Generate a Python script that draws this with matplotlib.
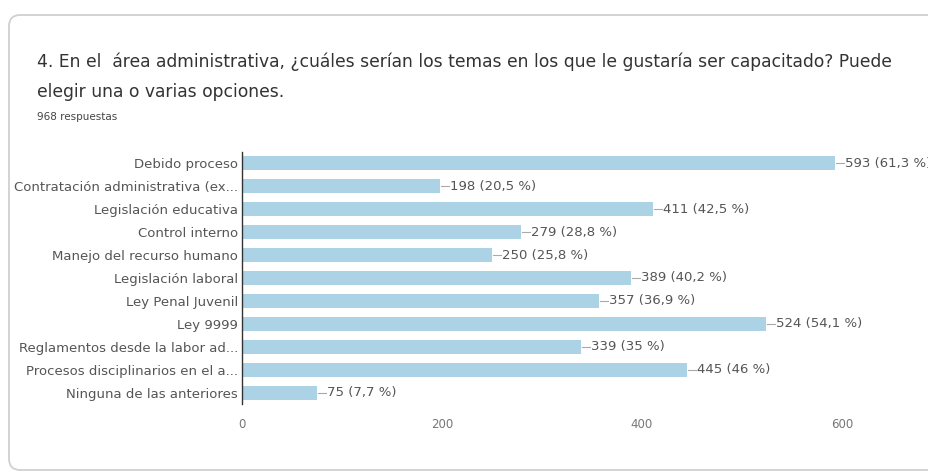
import matplotlib
matplotlib.use('Agg')
import matplotlib.pyplot as plt
from matplotlib.patches import FancyBboxPatch

# Datos de la encuesta (respuestas por tema)
CATEGORIAS = [
    "Debido proceso",
    "Contratación administrativa (ex...",
    "Legislación educativa",
    "Control interno",
    "Manejo del recurso humano",
    "Legislación laboral",
    "Ley Penal Juvenil",
    "Ley 9999",
    "Reglamentos desde la labor ad...",
    "Procesos disciplinarios en el a...",
    "Ninguna de las anteriores",
]
RESPUESTAS = [593, 198, 411, 279, 250, 389, 357, 524, 339, 445, 75]
PORCENTAJES = ["61,3 %", "20,5 %", "42,5 %", "28,8 %", "25,8 %", "40,2 %",
               "36,9 %", "54,1 %", "35 %", "46 %", "7,7 %"]
TICKS = [0, 200, 400, 600]

TITULO_1 = "4. En el  área administrativa, ¿cuáles serían los temas en los que le gustaría ser capacitado? Puede"
TITULO_2 = "elegir una o varias opciones."
SUBTITULO = "968 respuestas"

COLOR_BARRA = "#acd2e6"
COLOR_TEXTO = "#555555"

W, H = 929, 475
fig = plt.figure(figsize=(W / 100, H / 100), dpi=100)
fig.patch.set_facecolor('white')

# Tarjeta con bordes redondeados
card = FancyBboxPatch((9 / W, 1 - 470 / H), (960 - 9) / W, (470 - 15) / H,
                      boxstyle="round,pad=0,rounding_size=0.012",
                      transform=fig.transFigure, facecolor='white',
                      edgecolor='#d0d0d0', lw=1.3, zorder=-10,
                      mutation_aspect=W / H)
fig.patches.append(card)

# Títulos
fig.text(37 / W, 1 - 62 / H, TITULO_1, fontsize=12.3, family='DejaVu Sans',
         color='#333333', va='center', ha='left')
fig.text(37 / W, 1 - 92 / H, TITULO_2, fontsize=12.3, family='DejaVu Sans',
         color='#333333', va='center', ha='left')
fig.text(37 / W, 1 - 117 / H, SUBTITULO, fontsize=7.5, family='DejaVu Sans',
         color='#444444', va='center', ha='left')

# Ejes
x0, top, bot = 242, 152, 404
ax = fig.add_axes([x0 / W, 1 - bot / H, 1 - x0 / W, (bot - top) / H])
ax.set_facecolor('none')
pos = list(range(len(CATEGORIAS)))
ax.barh(pos, RESPUESTAS, height=0.6, color=COLOR_BARRA, zorder=2)
ax.set_ylim(len(CATEGORIAS) - 0.52, -0.48)
ax.set_xlim(0, W - x0)

for i, (v, p) in enumerate(zip(RESPUESTAS, PORCENTAJES)):
    ax.plot([v + 1, v + 9], [i, i], color='#aaaaaa', lw=0.8, zorder=3,
            clip_on=False)
    ax.text(v + 10, i, f"{v} ({p})", fontsize=9.5, color=COLOR_TEXTO,
            va='center', ha='left', clip_on=False)

ax.set_yticks(pos)
ax.set_yticklabels(CATEGORIAS, fontsize=9.5, color=COLOR_TEXTO)
ax.tick_params(axis='y', length=0, pad=3)
ax.set_xticks(TICKS)
ax.set_xticklabels([str(t) for t in TICKS], fontsize=8.5, color='#777777')
ax.tick_params(axis='x', length=0, pad=10)

for s in ['top', 'right', 'bottom']:
    ax.spines[s].set_visible(False)
ax.spines['left'].set_color('#333333')
ax.spines['left'].set_linewidth(1.0)

plt.savefig('out.png', dpi=100)
plt.close()
